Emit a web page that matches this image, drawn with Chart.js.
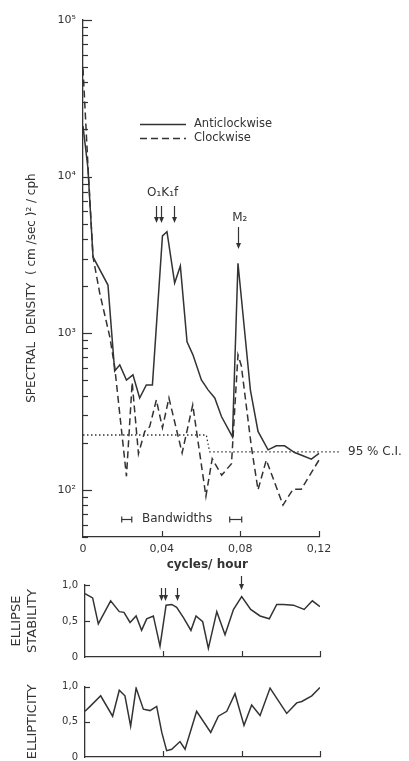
<!DOCTYPE html>
<html>
<head>
<meta charset="utf-8">
<script src="https://cdn.jsdelivr.net/npm/chart.js@4.4.1/dist/chart.umd.min.js"></script>
<style>
body { margin: 0; background: #fff; }
#wrap { position: relative; width: 409px; height: 761px; overflow: hidden; background: #fff; }
canvas { position: absolute; left: 0; }
</style>
</head>
<body>
<div id="wrap">
<canvas id="spec" width="409" height="576" style="top:0px"></canvas>
<canvas id="stab" width="409" height="100" style="top:570px"></canvas>
<canvas id="ellip" width="409" height="100" style="top:670px"></canvas>
</div>
<script>
// spectra (cycles/hour, (cm/sec)^2/cph)
var freqAnti = [0, 0.0025, 0.0051, 0.0127, 0.0161, 0.0187, 0.0221, 0.0254, 0.0288, 0.0322, 0.0353,
  0.0404, 0.0427, 0.0466, 0.0495, 0.0529, 0.0559, 0.0602, 0.0636, 0.0670, 0.0704, 0.0760,
  0.0788, 0.0851, 0.0890, 0.0941, 0.0983, 0.1025, 0.1076, 0.1118, 0.1161, 0.1200];
var anticlockwise = [21000, 11350, 3070, 2030, 574, 628, 503, 542, 386, 468, 468,
  4180, 4450, 2094, 2690, 883, 728, 503, 435, 386, 294, 218,
  2800, 435, 236, 180, 191, 191, 173, 165, 157, 171];

var freqClock = [0, 0.0025, 0.0051, 0.0085, 0.0136, 0.0161, 0.0221, 0.0250, 0.0282, 0.0314, 0.0339,
  0.0373, 0.0404, 0.0437, 0.0504, 0.0558, 0.0625, 0.0657, 0.0705, 0.0755, 0.0788, 0.0805,
  0.0856, 0.0890, 0.0932, 0.1017, 0.1068, 0.1110, 0.1200];
var clockwise = [49000, 11860, 3070, 1807, 951, 612, 122, 485, 170, 236, 253,
  375, 249, 386, 172, 349, 91, 158, 124, 147, 728, 620,
  189, 100, 155, 80, 101, 101, 155];

var freqCI = [0, 0.0627, 0.0644, 0.1304];
var ci95 = [224, 224, 175, 175];

// ellipse stability and ellipticity
var freqStab = [0, 0.0039, 0.0068, 0.0131, 0.0175, 0.0199, 0.0230, 0.0261, 0.0289, 0.0315, 0.0349,
  0.0383, 0.0414, 0.0443, 0.0468, 0.0502, 0.0541, 0.0567, 0.0601, 0.0630, 0.0673, 0.0715,
  0.0758, 0.0800, 0.0846, 0.0894, 0.0941, 0.0979, 0.1013, 0.1064, 0.1119, 0.1161, 0.1200];
var stability = [0.88, 0.82, 0.46, 0.78, 0.63, 0.62, 0.48, 0.57, 0.37, 0.53, 0.57,
  0.15, 0.72, 0.73, 0.69, 0.55, 0.37, 0.57, 0.49, 0.12, 0.63, 0.31,
  0.66, 0.84, 0.66, 0.57, 0.53, 0.73, 0.73, 0.72, 0.66, 0.78, 0.70];

var freqEllip = [0, 0.0026, 0.0080, 0.0141, 0.0175, 0.0204, 0.0233, 0.0261, 0.0298, 0.0332, 0.0366,
  0.0392, 0.0417, 0.0443, 0.0485, 0.0511, 0.0570, 0.0642, 0.0681, 0.0724, 0.0766, 0.0812,
  0.0851, 0.0894, 0.0945, 0.1030, 0.1081, 0.1107, 0.1158, 0.1200];
var ellipticity = [0.65, 0.72, 0.87, 0.58, 0.95, 0.87, 0.44, 0.98, 0.68, 0.66, 0.72,
  0.35, 0.09, 0.11, 0.22, 0.11, 0.65, 0.35, 0.58, 0.65, 0.90, 0.45,
  0.74, 0.59, 0.98, 0.62, 0.77, 0.79, 0.87, 0.99];

var xTicks = [0, 0.04, 0.08, 0.12];
var logTicks = [100, 1000, 10000, 100000];
var unitTicks = [0, 0.5, 1];

var ink = '#333333';
var sup = {2: '\u00b2', 3: '\u00b3', 4: '\u2074', 5: '\u2075'};
Chart.defaults.font.family = "'DejaVu Sans', sans-serif";
Chart.defaults.color = ink;

function pts(xs, ys) {
  return xs.map(function (x, i) { return {x: x, y: ys[i]}; });
}
function comma(v, d) {
  return v === 0 ? '0' : v.toFixed(d).replace('.', ',');
}
function line(ctx, x1, y1, x2, y2) {
  ctx.beginPath(); ctx.moveTo(x1, y1); ctx.lineTo(x2, y2); ctx.stroke();
}
function arrowDown(ctx, x, y1, y2) {
  line(ctx, x, y1, x, y2 - 4);
  ctx.beginPath();
  ctx.moveTo(x - 2.5, y2 - 6); ctx.lineTo(x + 2.5, y2 - 6); ctx.lineTo(x, y2);
  ctx.closePath(); ctx.fill();
}
function hbar(ctx, x1, x2, y) {
  line(ctx, x1, y, x2, y);
  line(ctx, x1, y - 3, x1, y + 3);
  line(ctx, x2, y - 3, x2, y + 3);
}
// ticks drawn inside the axes
function inwardTicks(chart, yList) {
  var ctx = chart.ctx, xs = chart.scales.x, ys = chart.scales.y, a = chart.chartArea;
  ctx.save();
  ctx.strokeStyle = ink; ctx.lineWidth = 1.2;
  xTicks.forEach(function (v) {
    if (v === 0) return;
    var px = Math.round(xs.getPixelForValue(v)) + 0.5;
    line(ctx, px, a.bottom, px, a.bottom - 6);
  });
  yList.forEach(function (t) {
    var py = Math.round(ys.getPixelForValue(t[0])) + 0.5;
    line(ctx, a.left, py, a.left + t[1], py);
  });
  ctx.restore();
}

var lineStyle = {borderColor: ink, borderWidth: 1.5, pointRadius: 0, tension: 0, fill: false};

function xAxis(h, showLabels, title) {
  return {
    type: 'linear', min: 0, max: 0.12,
    afterBuildTicks: function (s) { s.ticks = xTicks.map(function (v) { return {value: v}; }); },
    afterFit: function (s) { s.height = h; },
    grid: {display: false, drawTicks: false},
    border: {color: ink, width: 1.3},
    ticks: {display: showLabels, padding: 6, autoSkip: false, maxRotation: 0, font: {size: 11},
      callback: function (v) { return comma(v, 2); }},
    title: title
  };
}

// main spectrum
var mainDecor = {
  id: 'mainDecor',
  afterDraw: function (chart) {
    var ctx = chart.ctx, xs = chart.scales.x, ys = chart.scales.y;
    var yl = [];
    [10, 100, 1000, 10000].forEach(function (d) {
      for (var k = 1; k <= 9; k++) {
        var v = k * d;
        if (v >= 50 && v <= 100000) yl.push([v, k === 1 ? 9 : 5]);
      }
    });
    yl.push([100000, 9]);
    inwardTicks(chart, yl);
    ctx.save();
    ctx.strokeStyle = ink; ctx.fillStyle = ink; ctx.lineWidth = 1.3;
    // legend
    line(ctx, 140, 124.5, 186, 124.5);
    ctx.setLineDash([7, 4]); ctx.lineWidth = 1.4;
    line(ctx, 140, 138.5, 186, 138.5);
    ctx.setLineDash([]); ctx.lineWidth = 1.2;
    ctx.font = "11.5px 'DejaVu Sans'"; ctx.textBaseline = 'middle'; ctx.textAlign = 'left';
    ctx.fillText('Anticlockwise', 194, 124);
    ctx.fillText('Clockwise', 194, 138);
    // tidal arrows
    [0.0372, 0.0398, 0.0462].forEach(function (f) {
      arrowDown(ctx, Math.round(xs.getPixelForValue(f)) + 0.5, 206, 223);
    });
    arrowDown(ctx, Math.round(xs.getPixelForValue(0.0788)) + 0.5, 227, 249);
    ctx.textAlign = 'center';
    ctx.font = "12px 'DejaVu Sans'";
    ctx.fillText('O\u2081K\u2081f', xs.getPixelForValue(0.0405), 193);
    ctx.fillText('M\u2082', xs.getPixelForValue(0.0797), 218);
    // bandwidths
    var yb = 519.5;
    hbar(ctx, xs.getPixelForValue(0.0197), xs.getPixelForValue(0.0248), yb);
    hbar(ctx, xs.getPixelForValue(0.0746), xs.getPixelForValue(0.0807), yb);
    ctx.textAlign = 'left';
    ctx.fillText('Bandwidths', 142, 519);
    ctx.fillText('95 % C.I.', 348, ys.getPixelForValue(175));
    ctx.restore();
  }
};

new Chart(document.getElementById('spec'), {
  type: 'line',
  data: {datasets: [
    Object.assign({data: pts(freqAnti, anticlockwise), clip: false}, lineStyle),
    Object.assign({data: pts(freqClock, clockwise), borderDash: [7, 4], clip: false}, lineStyle),
    Object.assign({}, lineStyle, {data: pts(freqCI, ci95), borderDash: [1.5, 2.5], borderWidth: 1.3, clip: false})
  ]},
  options: {
    responsive: false, animation: false,
    layout: {padding: {top: 20, right: 90, left: 0, bottom: 0}},
    plugins: {legend: {display: false}, tooltip: {enabled: false}},
    scales: {
      x: xAxis(39, true, {display: true, text: '   cycles/ hour', font: {size: 12, weight: 'bold'}, padding: {top: 0, bottom: 4}}),
      y: {
        type: 'logarithmic', min: 50, max: 100000,
        afterBuildTicks: function (s) { s.ticks = logTicks.map(function (v) { return {value: v}; }); },
        afterFit: function (s) { s.width = 83; },
        grid: {display: false, drawTicks: false},
        border: {color: ink, width: 1.3},
        ticks: {padding: 7, autoSkip: false, font: {size: 11},
          callback: function (v) { return '10' + sup[Math.round(Math.log10(v))]; }},
        title: {display: true, text: 'SPECTRAL  DENSITY  ( cm /sec )\u00b2 / cph     ',
          font: {size: 12}, padding: {top: 25, bottom: 0}}
      }
    }
  },
  plugins: [mainDecor]
});

function unitAxis(title, pad, lh) {
  return {
    type: 'linear', min: 0, max: 1,
    afterBuildTicks: function (s) { s.ticks = unitTicks.map(function (v) { return {value: v}; }); },
    afterFit: function (s) { s.width = 85; },
    grid: {display: false, drawTicks: false},
    border: {color: ink, width: 1.3},
    ticks: {padding: 7, autoSkip: false, font: {size: 10},
      callback: function (v) { return comma(v, 1); }},
    title: {display: true, text: title, font: {size: 13, lineHeight: lh}, padding: {top: pad, bottom: 0}}
  };
}

// ellipse stability
new Chart(document.getElementById('stab'), {
  type: 'line',
  data: {datasets: [Object.assign({data: pts(freqStab, stability)}, lineStyle)]},
  options: {
    responsive: false, animation: false,
    layout: {padding: {top: 15, right: 89, left: 0, bottom: 0}},
    plugins: {legend: {display: false}, tooltip: {enabled: false}},
    scales: {x: xAxis(10.7, false), y: unitAxis(['ELLIPSE', 'STABILITY'], 9, 1.23)}
  },
  plugins: [{
    id: 'stabDecor',
    afterDraw: function (chart) {
      inwardTicks(chart, [[0.5, 5], [1, 5]]);
      var ctx = chart.ctx, xs = chart.scales.x;
      ctx.save(); ctx.strokeStyle = ink; ctx.fillStyle = ink; ctx.lineWidth = 1.2;
      [0.0388, 0.0410, 0.0472].forEach(function (f) {
        arrowDown(ctx, Math.round(xs.getPixelForValue(f)) + 0.5, 18, 31);
      });
      arrowDown(ctx, Math.round(xs.getPixelForValue(0.0799)) + 0.5, 6, 20);
      ctx.restore();
    }
  }]
});

// ellipticity
new Chart(document.getElementById('ellip'), {
  type: 'line',
  data: {datasets: [Object.assign({data: pts(freqEllip, ellipticity)}, lineStyle)]},
  options: {
    responsive: false, animation: false,
    layout: {padding: {top: 16.7, right: 89, left: 0, bottom: 0}},
    plugins: {legend: {display: false}, tooltip: {enabled: false}},
    scales: {x: xAxis(10.7, false), y: unitAxis('ELLIPTICITY', 25, 1.23)}
  },
  plugins: [{
    id: 'ellipDecor',
    afterDraw: function (chart) { inwardTicks(chart, [[0.5, 5], [1, 5]]); }
  }]
});
</script>
</body>
</html>
